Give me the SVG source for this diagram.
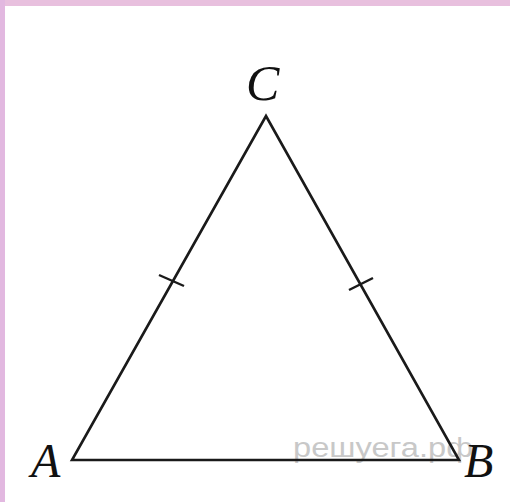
<svg xmlns="http://www.w3.org/2000/svg" width="510" height="502" viewBox="0 0 510 502">
<style>
.edge{stroke:#1a1a1a;stroke-width:2.6;fill:none;stroke-linecap:round;stroke-linejoin:miter}
.tick{stroke:#1a1a1a;stroke-width:2.4;fill:none}
.lbl{font-family:"Liberation Serif",serif;font-style:italic;fill:#111}
.wm{font-family:"Liberation Sans",sans-serif;fill:#c8c8c8}
</style>
<rect x="0" y="0" width="510" height="502" fill="#ffffff"/>
<rect x="0" y="0" width="510" height="6" fill="#e8c0de"/>
<rect x="0" y="0" width="5" height="502" fill="#e2b8e0"/>
<text class="wm" x="293" y="457" font-size="27" textLength="180" lengthAdjust="spacingAndGlyphs">решуега.рф</text>
<g id="edges">
<polygon class="edge" points="72,460 459,460 266,116"/>
<line class="tick" x1="159" y1="275" x2="184" y2="286"/>
<line class="tick" x1="349" y1="290" x2="373" y2="278"/>
</g>
<g id="C"><text class="lbl" x="246" y="100" font-size="50">C</text></g>
<g id="A"><text class="lbl" x="31" y="477" font-size="48">A</text></g>
<g id="B"><text class="lbl" x="464" y="477" font-size="48">B</text></g>
</svg>
